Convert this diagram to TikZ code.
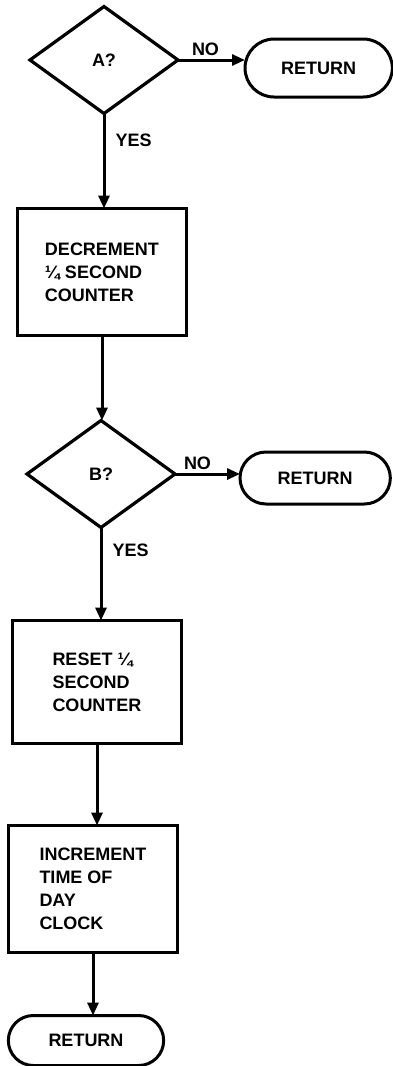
\documentclass[tikz,border=0pt]{standalone}
\usepackage{fontspec}
\setmainfont{Liberation Sans}
\usetikzlibrary{arrows.meta, positioning, shapes.geometric, shapes.misc}

\begin{document}
\begin{tikzpicture}[
font=\bfseries\fontsize{18}{23}\selectfont,
decision/.style={draw, diamond, line width=3.2pt, inner sep=0pt, outer sep=0pt, minimum width=148pt, minimum height=107pt},
box/.style={draw, line width=3pt, align=left, inner sep=0pt, outer sep=0pt, minimum width=169pt, minimum height=125pt},
terminal/.style={draw, rounded rectangle, line width=3pt, outer sep=0pt, minimum width=157pt, minimum height=52pt},
arrow/.style={-{Triangle[length=13pt, width=11pt]}, line width=3pt},
answer/.style={inner sep=0pt}
]

\useasboundingbox (0pt,0pt) rectangle (392pt,-1066pt);

\node[decision] (qa) at (104pt,-60pt) {A?};
\node[terminal, right=67pt of qa, yshift=-8pt, minimum width=154pt, minimum height=58pt] (reta) {RETURN};

\node[box, below=95pt of qa, xshift=-2pt, minimum height=127pt] (dec) {DECREMENT\\¼ SECOND\\COUNTER};

\node[decision, below=85pt of dec, xshift=-1pt] (qb) {B?};
\node[terminal, right=65pt of qb, yshift=-4pt] (retb) {RETURN};

\node[box, below=93pt of qb, xshift=-4pt, minimum height=123pt] (rst) {RESET ¼\\SECOND\\COUNTER};
\node[box, below=82pt of rst, xshift=-4pt, minimum height=127pt] (inc) {INCREMENT\\TIME OF\\DAY\\CLOCK};

\node[terminal, below=63pt of inc, xshift=-7pt, minimum width=162pt, minimum height=50pt] (retc) {RETURN};

\draw[arrow] (qa.east) -- node[answer, above=3pt, xshift=-6pt] (noa) {NO} (qa.east -| reta.west);
\draw[arrow] (qa.south) -- node[answer, right=10pt, pos=0.28] (yesa) {YES} (qa.south |- dec.north);
\draw[arrow] (dec.south) -- (dec.south |- qb.north);
\draw[arrow] (qb.east) -- node[answer, above=3pt, xshift=-10pt] (nob) {NO} (qb.east -| retb.west);
\draw[arrow] (qb.south) -- node[answer, right=10pt, pos=0.24] (yesb) {YES} (qb.south |- rst.north);
\draw[arrow] (rst.south) -- (rst.south |- inc.north);
\draw[arrow] (inc.south) -- (inc.south |- retc.north);

\end{tikzpicture}
\end{document}
